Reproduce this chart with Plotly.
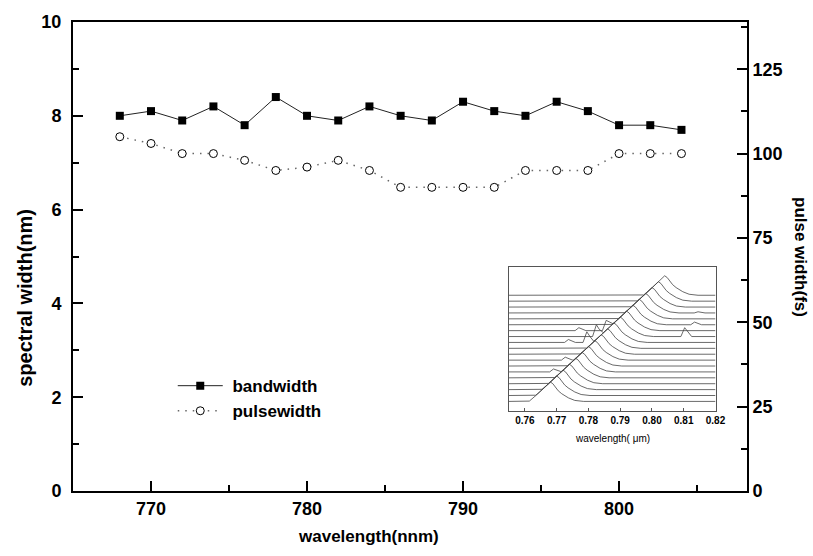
import numpy as np
import plotly.graph_objects as go

# ---------------- data ----------------
wavelength_nm = [768, 770, 772, 774, 776, 778, 780, 782, 784, 786,
                 788, 790, 792, 794, 796, 798, 800, 802, 804]
bandwidth_nm = [8.0, 8.1, 7.9, 8.2, 7.8, 8.4, 8.0, 7.9, 8.2, 8.0,
                7.9, 8.3, 8.1, 8.0, 8.3, 8.1, 7.8, 7.8, 7.7]
pulsewidth_fs = [105, 103, 100, 100, 98, 95, 96, 98, 95, 90,
                 90, 90, 90, 95, 95, 95, 100, 100, 100]

# inset: spectral profile (offset from peak in um, height in trace spacings)
profile_offset_um = [-0.0075, -0.0066, -0.004, -0.002, -0.0008, 0.0, 0.0008,
                     0.0015, 0.0025, 0.0036, 0.0057, 0.0077, 0.0105]
profile_height = [0.0, 0.05, 1.25, 2.25, 2.9, 3.3, 3.0,
                  2.45, 1.8, 1.3, 0.6, 0.17, 0.0]
# extra small features: (trace index, centre um, height)
bump_trace = [10, 11, 12, 10, 12, 11, 13, 7, 5, 15]
bump_center_um = [0.7795, 0.7825, 0.7856, 0.7737, 0.7770, 0.8103, 0.8134, 0.7727, 0.7690, 0.8145]
bump_height = [1.8, 2.0, 1.6, 0.5, 0.5, 1.5, 0.45, 0.5, 0.5, 0.2]
bump_shape_offset = [-0.0012, 0.0, 0.0022]
bump_shape_height = [0.0, 1.0, 0.0]
inset_ticks = [0.76, 0.77, 0.78, 0.79, 0.80, 0.81, 0.82]

FONT = "Liberation Sans, Arial, sans-serif"

fig = go.Figure()

fig.add_trace(go.Scatter(
    x=wavelength_nm, y=bandwidth_nm, name=" bandwidth", mode="lines+markers",
    line=dict(color="#222", width=1),
    marker=dict(symbol="square", size=8, color="black"),
    xaxis="x", yaxis="y"))
fig.add_trace(go.Scatter(
    x=wavelength_nm, y=pulsewidth_fs, name=" pulsewidth", mode="lines+markers",
    line=dict(color="#666", width=1.5, dash="1.5px,6px"),
    marker=dict(symbol="circle", size=8, color="white", line=dict(color="black", width=1)),
    xaxis="x", yaxis="y3"))

# inset waterfall spectra
x_min, x_max = 0.755, 0.82
for k, wl in enumerate(wavelength_nm):
    peak = wl / 1000.0
    knots = [x_min, x_max] + [peak + o for o in profile_offset_um]
    bumps = [(c, h) for t, c, h in zip(bump_trace, bump_center_um, bump_height) if t == k]
    for c, h in bumps:
        knots += [c + o for o in bump_shape_offset]
    knots = np.array(sorted(set(round(v, 6) for v in knots if x_min <= v <= x_max)))
    yy = np.interp(knots, [peak + o for o in profile_offset_um], profile_height, left=0, right=0)
    for c, h in bumps:
        yy = yy + h * np.interp(knots, [c + o for o in bump_shape_offset], bump_shape_height, left=0, right=0)
    fig.add_trace(go.Scatter(
        x=knots, y=yy + k, mode="lines", line=dict(color="#444", width=0.8),
        showlegend=False, hoverinfo="skip", xaxis="x2", yaxis="y2"))

L, R, T, B = 73, 66, 20, 65
W, H = 813, 556
pw = W - L - R
ph = H - T - B

def px_to_paper_x(px):
    return (px - L) / pw

def py_to_paper_y(py):
    return (H - B - py) / ph

axis_common = dict(showgrid=False, zeroline=False, linecolor="black", linewidth=2,
                   ticks="inside", tickcolor="black", tickwidth=2, ticklen=10,
                   tickfont=dict(family=FONT, size=18, color="black", weight="bold"))

def ann(text, x, y, size, angle=0, bold=True):
    return dict(text=text, x=px_to_paper_x(x), y=py_to_paper_y(y), xref="paper", yref="paper",
                xanchor="center", yanchor="middle", showarrow=False, textangle=angle,
                font=dict(family=FONT, size=size, color="black",
                          weight="bold" if bold else "normal"))

fig.update_layout(
    width=W, height=H, margin=dict(l=L, r=R, t=T, b=B),
    plot_bgcolor="white", paper_bgcolor="white",
    xaxis=dict(domain=[0, 1], range=[765, 808.2], tick0=770, dtick=10, showline=True,
               mirror=True, anchor="y",
               minor=dict(dtick=5, ticks="inside", ticklen=6, tickcolor="black", tickwidth=2),
               **axis_common),
    yaxis=dict(domain=[0, 1], range=[0, 10], dtick=2, showline=True, anchor="x",
               minor=dict(dtick=1, ticks="inside", ticklen=6, tickcolor="black", tickwidth=2),
               ticklabelstandoff=6, **axis_common),
    yaxis3=dict(range=[0, 139], dtick=25, overlaying="y", side="right", anchor="x",
                showline=True,
                minor=dict(dtick=12.5, ticks="inside", ticklen=6, tickcolor="black", tickwidth=2),
                **axis_common),
    xaxis2=dict(domain=[px_to_paper_x(509), px_to_paper_x(715.5)], range=[x_min, x_max],
                anchor="y2", showgrid=False, zeroline=False, showline=True, mirror=True,
                linecolor="#555", linewidth=1, ticks="inside", ticklen=3, tickcolor="#555",
                tickvals=inset_ticks, ticktext=[f"{v:.2f}" for v in inset_ticks],
                tickfont=dict(family=FONT, size=10, color="black", weight="bold")),
    yaxis2=dict(domain=[py_to_paper_y(410.5), py_to_paper_y(265.7)], range=[-1.6, 22.85],
                anchor="x2", showgrid=False, zeroline=False, showline=True, mirror=True,
                linecolor="#555", linewidth=1, showticklabels=False, ticks=""),
    legend=dict(x=0.148, y=0.262, xanchor="left", yanchor="top",
                bgcolor="rgba(0,0,0,0)", itemwidth=45,
                font=dict(family=FONT, size=17, color="black", weight="bold")),
    annotations=[
        ann("spectral width(nm)", 25, 297, 20, -90),
        ann("pulse width(fs)", 800, 256, 17, 90),
        ann("wavelength(nnm)", 368, 537, 17),
        ann("wavelength( \u03bcm)", 612, 438, 10, bold=False),
    ],
)

fig.write_html("out.html", config={"displayModeBar": False},
               post_script="document.body.style.margin='0';")
